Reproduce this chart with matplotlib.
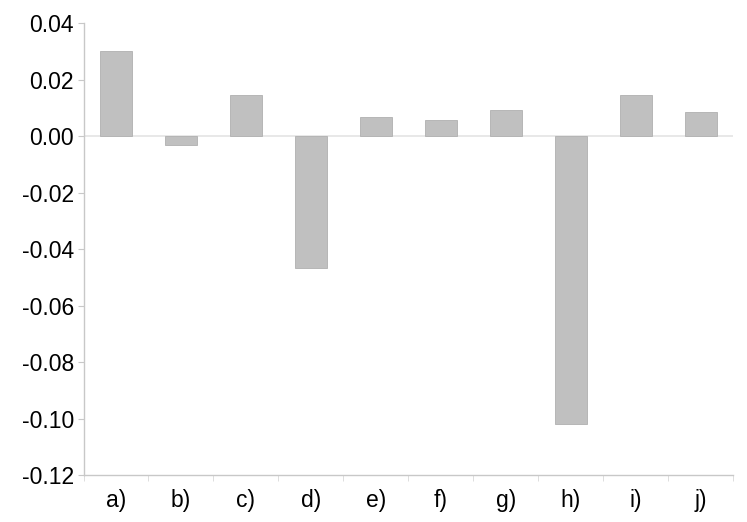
import numpy as np
import matplotlib.pyplot as plt
from matplotlib.ticker import FixedLocator

labels = ['a)', 'b)', 'c)', 'd)', 'e)', 'f)', 'g)', 'h)', 'i)', 'j)']
values = [0.0301, -0.0032, 0.0146, -0.0467, 0.0068, 0.0057, 0.0094, -0.1018, 0.0146, 0.0085]

plt.rcParams['font.family'] = ['Liberation Sans', 'DejaVu Sans']

fig = plt.figure(figsize=(7.47, 5.22), dpi=100)
ax = fig.add_axes([0.1118, 0.0891, 0.8699, 0.8668])

x_pos = np.arange(len(labels))
ax.bar(x_pos, values, width=0.5, color='#c0c0c0', edgecolor='#b0b0b0', linewidth=0.6, zorder=3)
ax.axhline(0, color='#e4e4e4', linewidth=1.2, zorder=2)

ax.set_xlim(-0.5, len(labels) - 0.5)
ax.set_ylim(-0.12, 0.04)
ax.set_yticks(np.arange(-0.12, 0.041, 0.02))
ax.set_yticklabels(['%.2f' % v for v in np.arange(-0.12, 0.041, 0.02)])
ax.set_xticks(x_pos)
ax.set_xticklabels(labels)
ax.xaxis.set_minor_locator(FixedLocator(np.arange(-0.5, len(labels), 1.0)))

for s in ['top', 'right']:
    ax.spines[s].set_visible(False)
for s in ['left', 'bottom']:
    ax.spines[s].set_color('#c8c8c8')
    ax.spines[s].set_linewidth(1.0)

ax.tick_params(axis='y', length=4.5, color='#c8c8c8', labelsize=16.5, pad=2.5)
ax.tick_params(axis='x', which='major', length=0, labelsize=16.5, pad=10)
ax.tick_params(axis='x', which='minor', length=4, color='#d8d8d8')

plt.savefig('out.png', dpi=100)
